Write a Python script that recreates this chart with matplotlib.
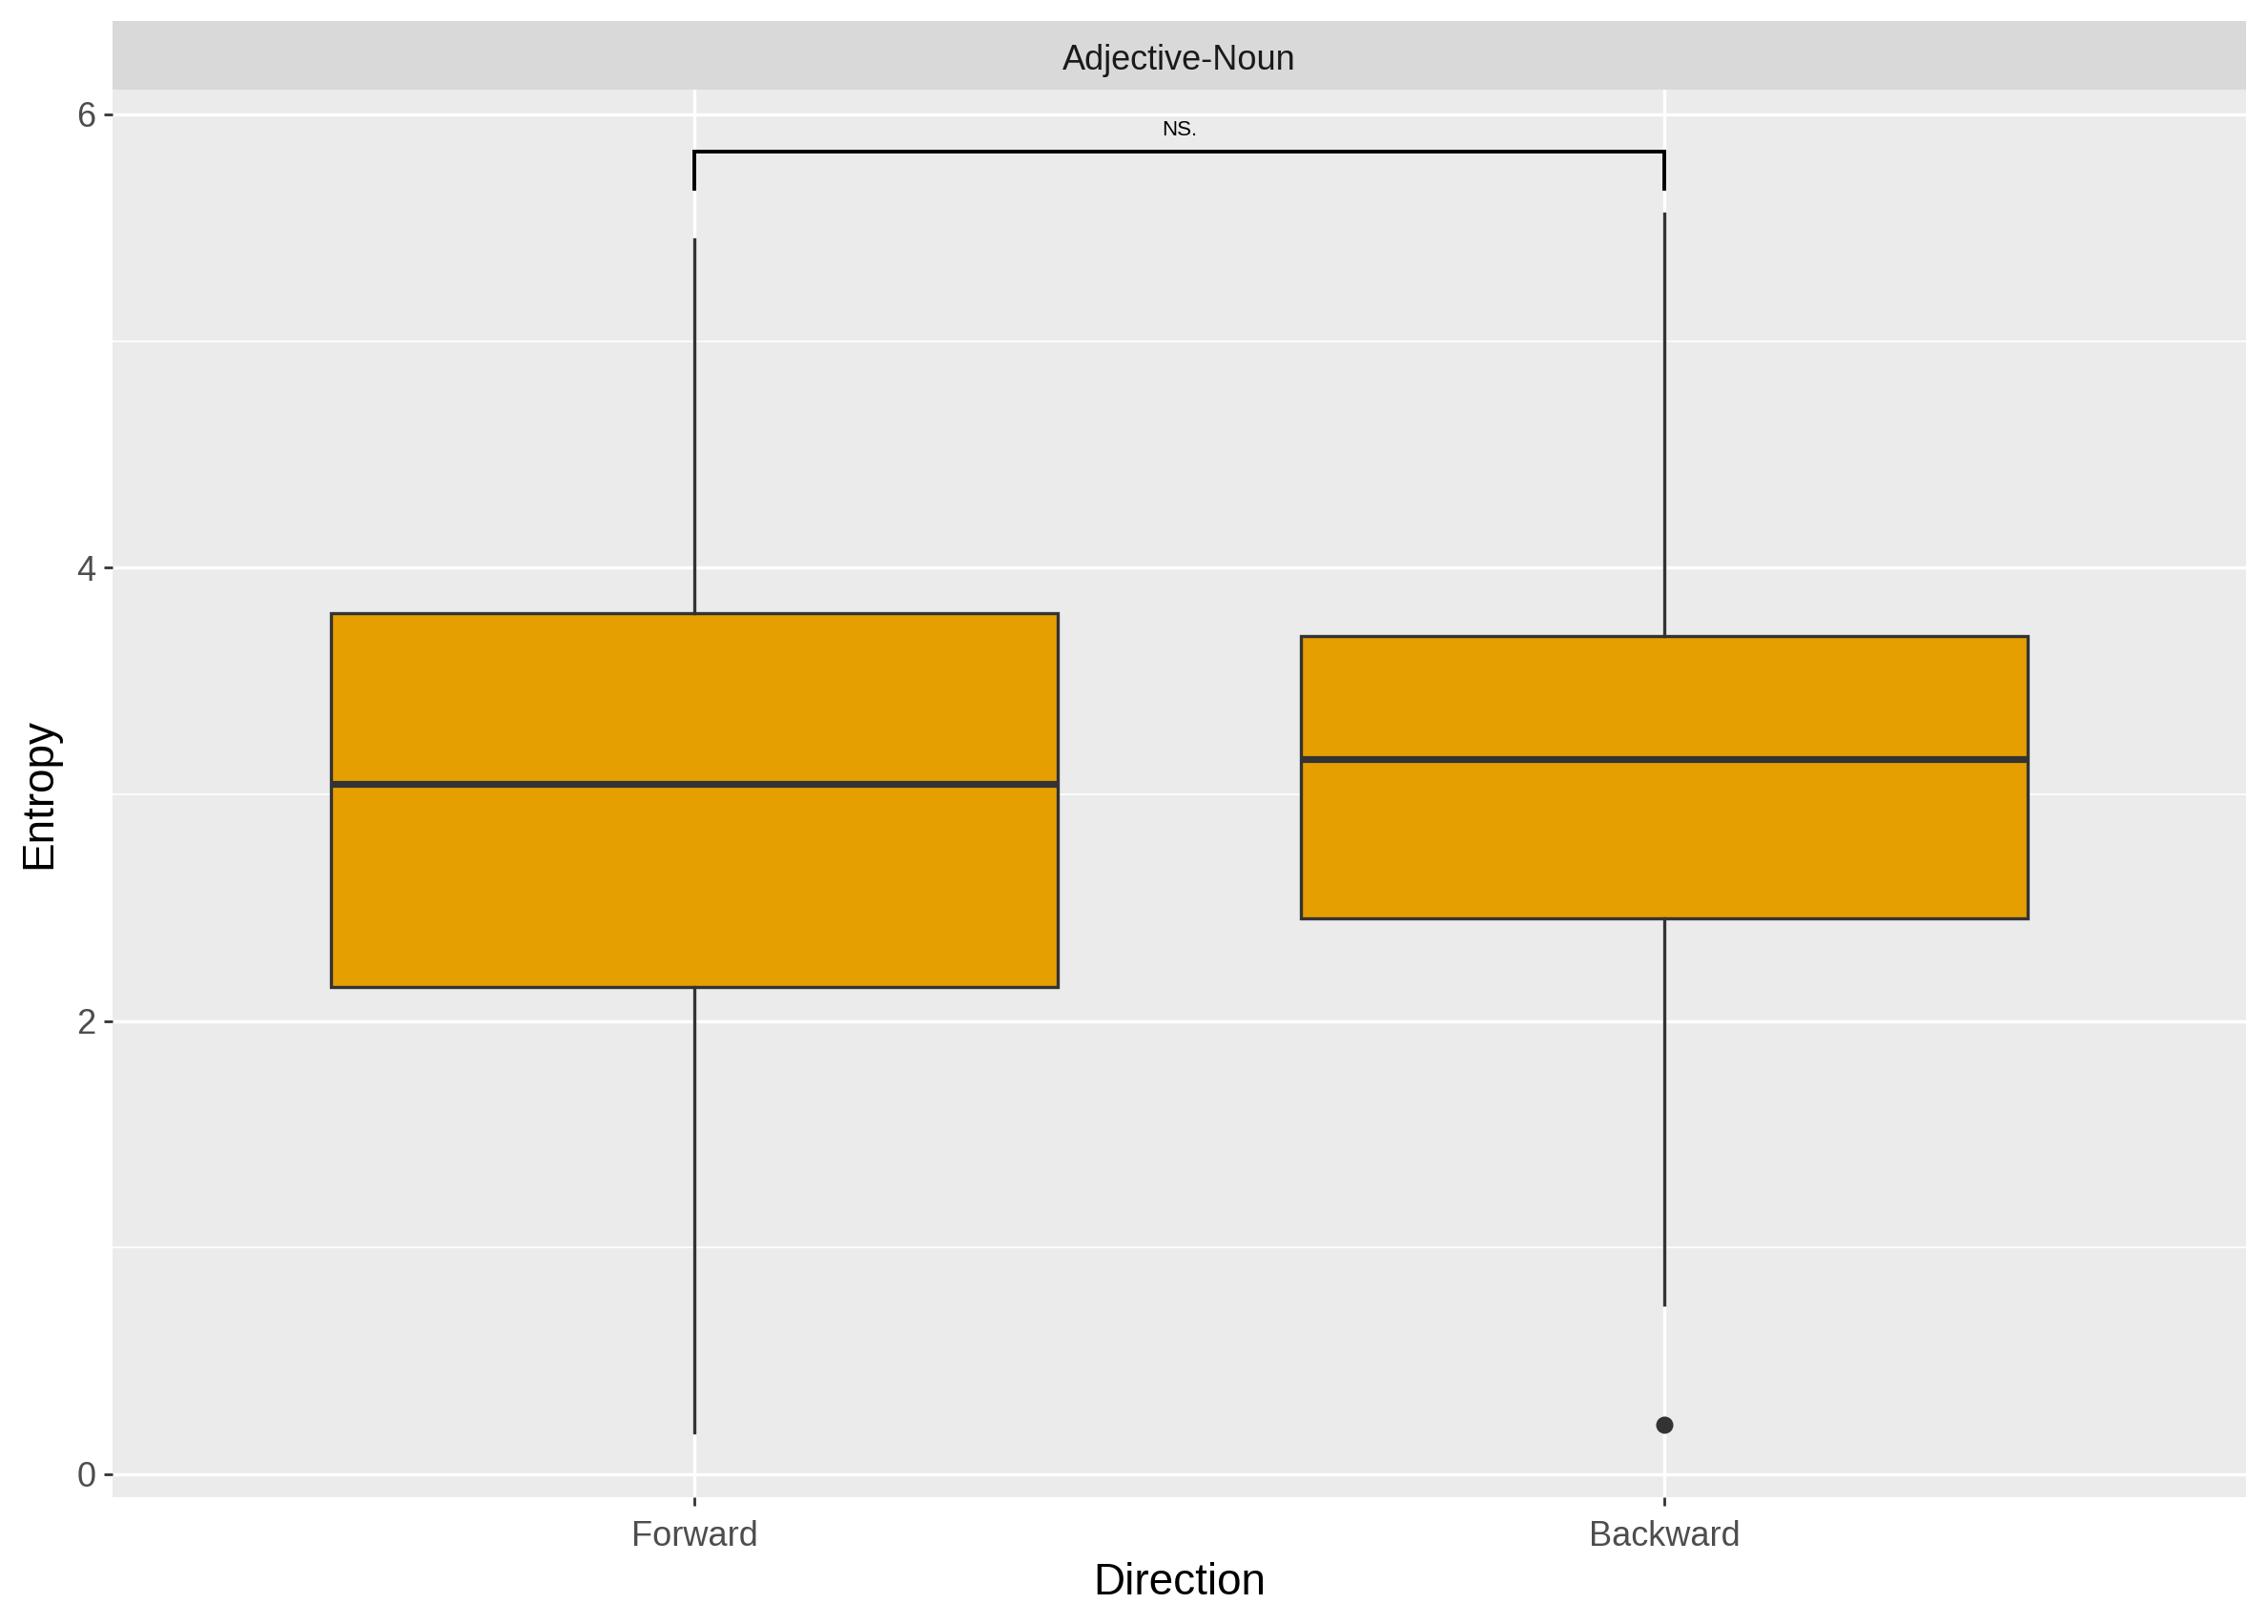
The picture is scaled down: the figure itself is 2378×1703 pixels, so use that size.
import matplotlib
matplotlib.use("Agg")
import matplotlib.pyplot as plt

categories = ["Forward", "Backward"]
whisker_low = [0.185, 0.747]
q1 = [2.152, 2.452]
median = [3.046, 3.155]
q3 = [3.800, 3.700]
whisker_high = [5.45, 5.56]
outliers = [[], [0.217]]
panel_title = "Adjective-Noun"
signif_label = "NS."
bracket_y = 5.836
bracket_tip = 5.67

plt.rcParams['font.family'] = ['Liberation Sans', 'DejaVu Sans']

W, H, DPI = 2378, 1703, 200
fig = plt.figure(figsize=(W / DPI, H / DPI), dpi=DPI)

left, right, top, bottom = 118, 2355, 94, 1570
strip_top = 22
ax = fig.add_axes([left / W, 1 - bottom / H, (right - left) / W, (bottom - top) / H])
sax = fig.add_axes([left / W, 1 - top / H, (right - left) / W, (top - strip_top) / H])

ax.set_facecolor("#EBEBEB")
for s in ax.spines.values():
    s.set_visible(False)

ax.set_xlim(0.4, 2.6)
ax.set_ylim(-0.101, 6.109)
ax.set_yticks([0, 2, 4, 6])
ax.set_yticks([1, 3, 5], minor=True)
ax.grid(which="major", color="white", linewidth=1.25)
ax.grid(which="minor", axis="y", color="white", linewidth=0.6)
ax.set_axisbelow(True)

stats = []
for i, c in enumerate(categories):
    stats.append(dict(label=c, whislo=whisker_low[i], q1=q1[i], med=median[i],
                      q3=q3[i], whishi=whisker_high[i], fliers=outliers[i]))

ax.bxp(stats, positions=[1, 2], widths=0.75, patch_artist=True, showcaps=False,
       boxprops=dict(facecolor="#E69F00", edgecolor="#333333", linewidth=1.2),
       medianprops=dict(color="#333333", linewidth=2.6, solid_capstyle="butt"),
       whiskerprops=dict(color="#333333", linewidth=1.2),
       flierprops=dict(marker="o", markerfacecolor="#333333", markeredgecolor="#333333",
                       markersize=5.5))
ax.set_xticks([1, 2])
ax.set_xticklabels(categories)
ax.tick_params(axis="both", which="major", length=3.3, width=1.0, color="#333333",
               labelsize=13, labelcolor="#4D4D4D")
ax.tick_params(axis="x", which="major", pad=5.5)
ax.tick_params(axis="y", which="major", pad=3)
ax.tick_params(axis="both", which="minor", length=0)

# significance bracket
ax.plot([1, 1, 2, 2], [bracket_tip, bracket_y, bracket_y, bracket_tip],
        color="black", linewidth=1.4, solid_joinstyle="miter")
ax.text(1.5, bracket_y + 0.05, signif_label, ha="center", va="bottom", fontsize=8,
        color="black")

ax.set_xlabel("Direction", fontsize=16.5, color="black", labelpad=3)
ax.set_ylabel("Entropy", fontsize=16.5, color="black", labelpad=6)

# strip
sax.set_facecolor("#D9D9D9")
sax.set_xticks([])
sax.set_yticks([])
for s in sax.spines.values():
    s.set_visible(False)
sax.text(0.5, 0.42, panel_title, ha="center", va="center", fontsize=13,
         color="#1A1A1A", transform=sax.transAxes)

fig.savefig("out.png", dpi=DPI, facecolor="white")
